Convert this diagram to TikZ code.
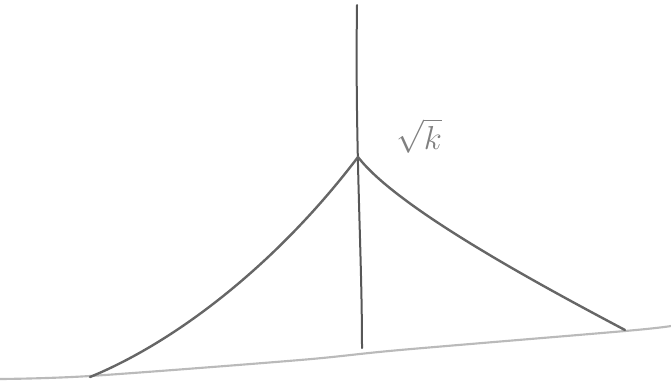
\documentclass[tikz,border=0pt]{standalone}
\begin{document}
\begin{tikzpicture}[x=0.75pt,y=-0.75pt,
  pencil/.style={line width=1.8pt,color=black!60,line cap=round},
  axisline/.style={line width=1.5pt,color=black!66,line cap=round},
  faint/.style={line width=1.6pt,color=black!27,line cap=round}]
\useasboundingbox (0,0) rectangle (671,383);
\coordinate (top) at (357,5);
\coordinate (bot) at (362,348);
\coordinate (peak) at (358,157);
\coordinate (lft) at (90,377);
\coordinate (rgt) at (625,330);
\draw[faint] plot[smooth] coordinates {(0,379) (90,376) (300,360) (400,350) (625,331) (671,326)};
\draw[axisline] (top) .. controls (355,150) and (362,250) .. (bot);
\draw[pencil] (lft) .. controls (180,340) and (280,260) .. (peak);
\draw[pencil] (peak) .. controls (397,208) and (540,285) .. (rgt);
\node[text=black!50, font=\fontsize{27}{30}\selectfont] (lbl) at (419,136) {$\sqrt{k}$};
\end{tikzpicture}
\end{document}
